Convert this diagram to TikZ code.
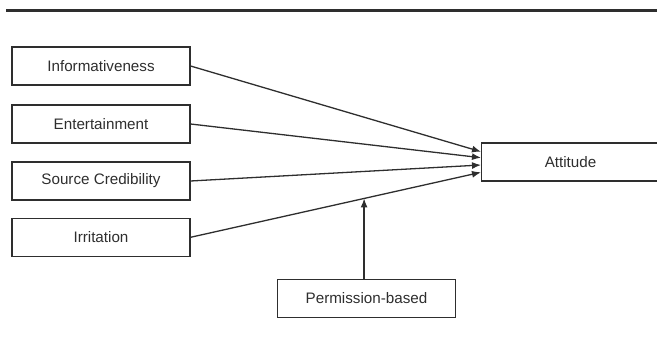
\documentclass[tikz,border=0pt]{standalone}
\usepackage{fontspec}
\setmainfont{Liberation Sans}
\usetikzlibrary{arrows.meta}
\definecolor{ink}{HTML}{2E2E2E}
\begin{document}
\begin{tikzpicture}[x=1pt,y=-1pt,
  factor/.style={draw=ink,line width=1.1pt,minimum width=178pt,minimum height=38pt,
    inner sep=0pt,font=\fontsize{15.2}{17}\selectfont,text=ink},
  link/.style={draw=ink,line width=1.3pt,-{Latex[length=9pt,width=7pt]}}]
\useasboundingbox (0,0) rectangle (657,350);
% heading rule
\draw[ink,line width=2.2pt] (6,10.5) -- (657,10.5);
% antecedents
\node[factor] (inf) at (101,66) {Informativeness};
\node[factor] (ent) at (101,124) {Entertainment};
\node[factor] (src) at (101,181) {Source Credibility};
\node[factor] (irr) at (101,237.3) {Irritation};
% outcome
\node[factor,minimum width=178pt,anchor=west] (att) at (481,162) {Attitude};
% moderator
\node[factor] (perm) at (366.5,298.5) {Permission-based};
% paths into the outcome
\coordinate (t1) at (481,151.7);
\coordinate (t2) at (481,157.7);
\coordinate (t3) at (481,165);
\coordinate (t4) at (481,172.3);
\draw[link] (inf.east) -- (t1);
\draw[link] (ent.east) -- (t2);
\draw[link] (src.east) -- (t3);
\draw[link] (irr.east) -- (t4);
% moderating arrow onto the Irritation path
\path (irr.east) -- (t4) coordinate[pos=0.5975] (mod);
\draw[link] (perm.north -| mod) -- (mod);
\end{tikzpicture}
\end{document}
